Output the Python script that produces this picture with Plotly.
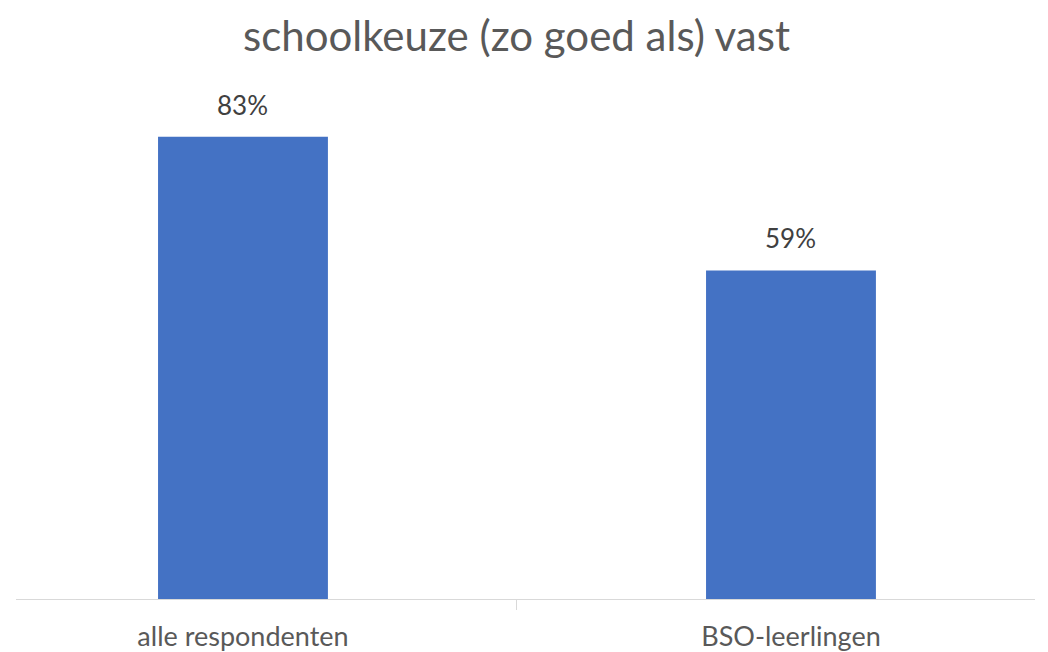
import plotly.graph_objects as go

categories = ["alle respondenten", "BSO-leerlingen"]
values = [83, 59]
labels = ["83%", "59%"]
title = "schoolkeuze (zo goed als) vast"

FONT = "Lato, 'Open Sans', sans-serif"

fig = go.Figure()
fig.add_trace(go.Bar(
    x=categories, y=values, width=0.31,
    marker=dict(color="#4472C4", line=dict(width=0)),
    hoverinfo="skip",
))

for c, v, t in zip(categories, values, labels):
    fig.add_annotation(x=c, y=v, text=t, showarrow=False, yanchor="bottom",
                       yshift=14, font=dict(family=FONT, size=26, color="#404040"))

fig.update_layout(
    width=1048, height=652,
    margin=dict(l=8, r=21, t=72, b=59),
    paper_bgcolor="white", plot_bgcolor="white",
    showlegend=False,
    title=dict(text=title, x=0.4852, xanchor="center", y=0.956, yanchor="middle",
               font=dict(family=FONT, size=42, color="#595959")),
    xaxis=dict(
        type="category", range=[-0.4142, 1.4453],
        showline=True, linecolor="#d9d9d9", linewidth=1,
        ticks="outside", tickson="boundaries", ticklen=10, tickcolor="#d9d9d9",
        ticklabelstandoff=14,
        showgrid=False, zeroline=False,
        tickfont=dict(family=FONT, size=27, color="#595959"),
    ),
    yaxis=dict(range=[0, 93.2], visible=False, showgrid=False, zeroline=False),
)

fig.write_html("out.html")
